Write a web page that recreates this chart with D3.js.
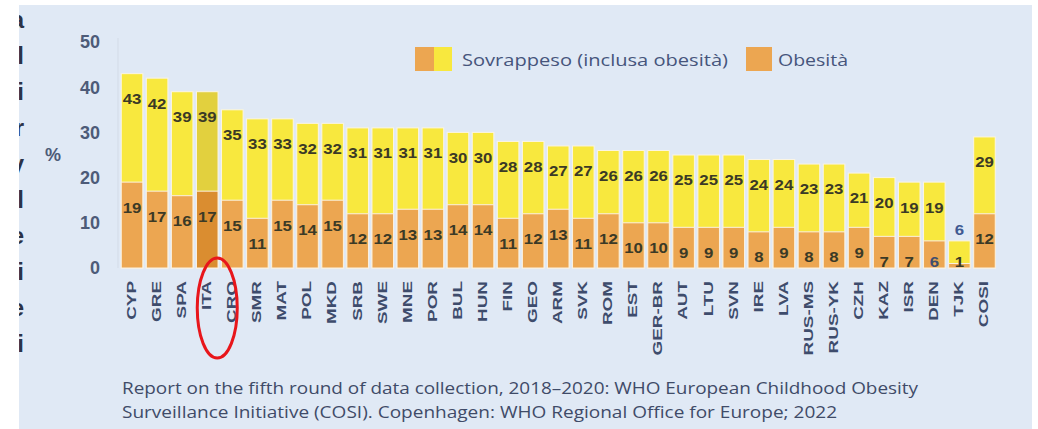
<!DOCTYPE html>
<html>
<head>
<meta charset="utf-8">
<script src="https://cdn.jsdelivr.net/npm/d3@7"></script>
<style>
  body { margin: 0; background: #fff; }
  svg { display: block; }
</style>
</head>
<body>
<div id="chart"></div>
<script>
// Countries (COSI round 5) and prevalence values, %
const countries = ["CYP","GRE","SPA","ITA","CRO","SMR","MAT","POL","MKD","SRB","SWE","MNE","POR","BUL","HUN",
  "FIN","GEO","ARM","SVK","ROM","EST","GER-BR","AUT","LTU","SVN","IRE","LVA","RUS-MS","RUS-YK","CZH","KAZ",
  "ISR","DEN","TJK","COSI"];
const overweight = [43,42,39,39,35,33,33,32,32,31,31,31,31,30,30,28,28,27,27,26,26,26,25,25,25,24,24,23,23,21,20,19,19,6,29];
const obesity = [19,17,16,17,15,11,15,14,15,12,12,13,13,14,14,11,12,13,11,12,10,10,9,9,9,8,9,8,8,9,7,7,6,1,12];
const yTicks = [0,10,20,30,40,50];
const highlight = "ITA";

const width = 1038, height = 429;
const svg = d3.select("#chart").append("svg")
  .attr("width", width)
  .attr("height", height);

// panel background
svg.append("rect")
  .attr("x", 19).attr("y", 5)
  .attr("width", 1013).attr("height", 430)
  .attr("fill", "#e0e9f5");

// cut-off letters from the neighbouring slide, left edge
const clip = svg.append("clipPath").attr("id", "leftclip");
clip.append("rect").attr("x", 19).attr("y", 0).attr("width", 20).attr("height", height);
svg.append("g").attr("clip-path", "url(#leftclip)")
  .selectAll("text")
  .data(["a","l","i","r","y","l","e","i","e","i"])
  .enter().append("text")
  .attr("x", 24).attr("y", (d, i) => 28 + i * 36)
  .attr("text-anchor", "end")
  .style("font-family", "Liberation Sans, Arial, sans-serif")
  .style("font-weight", "bold")
  .style("font-size", "24px")
  .style("fill", "#2c3347")
  .text(d => d);

const x = d3.scaleBand()
  .domain(countries)
  .range([119.5, 997])
  .paddingInner(0.14)
  .paddingOuter(0.07);

const y = d3.scaleLinear()
  .domain([0, 50])
  .range([268, 42]);

const data = countries.map((c, i) => ({ c: c, ow: overweight[i], ob: obesity[i] }));

// faint axis line
svg.append("line")
  .attr("x1", 118).attr("x2", 118)
  .attr("y1", y(50) - 4).attr("y2", y(0))
  .attr("stroke", "#d3dbe7").attr("stroke-width", 1);

// y tick labels
svg.append("g")
  .selectAll("text")
  .data(yTicks)
  .enter().append("text")
  .attr("x", 100)
  .attr("y", d => y(d))
  .attr("dy", "0.36em")
  .attr("text-anchor", "end")
  .style("font-family", "Liberation Sans, Arial, sans-serif")
  .style("font-weight", "bold")
  .style("font-size", "18px")
  .style("fill", "#4d5b78")
  .text(d => d);

svg.append("text")
  .attr("x", 53).attr("y", 155)
  .attr("dy", "0.36em")
  .attr("text-anchor", "middle")
  .style("font-family", "Liberation Sans, Arial, sans-serif")
  .style("font-weight", "bold")
  .style("font-size", "18px")
  .style("fill", "#4d5b78")
  .text("%");

// bars
const bars = svg.append("g");
bars.selectAll(".ow")
  .data(data)
  .enter().append("rect")
  .attr("class", "ow")
  .attr("x", d => x(d.c))
  .attr("y", d => y(d.ow))
  .attr("width", x.bandwidth())
  .attr("height", d => y(0) - y(d.ow))
  .attr("fill", d => d.c === highlight ? "#e2d03e" : "#f8e83e")
  .attr("stroke", "#fbf5e4")
  .attr("stroke-width", 1);

bars.selectAll(".ob")
  .data(data)
  .enter().append("rect")
  .attr("class", "ob")
  .attr("x", d => x(d.c))
  .attr("y", d => y(d.ob))
  .attr("width", x.bandwidth())
  .attr("height", d => y(0) - y(d.ob))
  .attr("fill", d => d.c === highlight ? "#da8d30" : "#eca651")
  .attr("stroke", "#fbf1e0")
  .attr("stroke-width", 1);

// value labels
function valueLabels(cls, key, posFn, colFn) {
  svg.append("g")
    .selectAll("text")
    .data(data)
    .enter().append("text")
    .attr("class", cls)
    .attr("transform", d => `translate(${x(d.c) + x.bandwidth() / 2},${posFn(d)}) scale(1.12,1)`)
    .attr("dy", "0.36em")
    .attr("text-anchor", "middle")
    .style("font-family", "Liberation Sans, Arial, sans-serif")
    .style("font-weight", "bold")
    .style("font-size", "15px")
    .style("fill", colFn)
    .text(d => d[key]);
}
valueLabels("owl", "ow",
  d => (d.ow - d.ob < 8 ? y(d.ow) - 11 : y(d.ow) + 25),
  d => (d.ow - d.ob < 8 ? "#3f5a92" : "#3b3a26"));
valueLabels("obl", "ob",
  d => Math.min(y(d.ob) + 25, y(0) - 6),
  d => (d.ob < 7 && d.ow - d.ob >= 8 ? "#3f4d6e" : "#3b3a26"));

// x labels (rotated)
svg.append("g")
  .selectAll("text")
  .data(countries)
  .enter().append("text")
  .attr("transform", d => `translate(${x(d) + x.bandwidth() / 2 - 1},281) rotate(-90) scale(1.4,1)`)
  .attr("dy", "0.36em")
  .attr("text-anchor", "end")
  .style("font-family", "Liberation Sans, Arial, sans-serif")
  .style("font-weight", "bold")
  .style("font-size", "13.5px")
  .style("fill", "#3e4c6c")
  .text(d => d);

// legend
const legend = svg.append("g");
legend.append("rect").attr("x", 415).attr("y", 47).attr("width", 19).attr("height", 24).attr("fill", "#eca651");
legend.append("rect").attr("x", 434).attr("y", 47).attr("width", 18).attr("height", 24).attr("fill", "#f8e83e");
legend.append("rect").attr("x", 746).attr("y", 47).attr("width", 26).attr("height", 24).attr("fill", "#eca651");
legend.append("text")
  .attr("x", 462).attr("y", 60).attr("dy", "0.36em")
  .attr("textLength", 266).attr("lengthAdjust", "spacingAndGlyphs")
  .style("font-family", "Open Sans, sans-serif")
  .style("font-size", "17px")
  .style("fill", "#46557c")
  .text("Sovrappeso (inclusa obesità)");
legend.append("text")
  .attr("x", 778).attr("y", 60).attr("dy", "0.36em")
  .attr("textLength", 70).attr("lengthAdjust", "spacingAndGlyphs")
  .style("font-family", "Open Sans, sans-serif")
  .style("font-size", "17px")
  .style("fill", "#46557c")
  .text("Obesità");

// highlight ellipse around ITA label
svg.append("ellipse")
  .attr("cx", x("ITA") + x.bandwidth() / 2 + 10)
  .attr("cy", 308)
  .attr("rx", 20).attr("ry", 50)
  .attr("fill", "none")
  .attr("stroke", "#e8161b")
  .attr("stroke-width", 3);

// source note
const foot = svg.append("g")
  .style("font-family", "Open Sans, sans-serif")
  .style("font-size", "16px")
  .style("fill", "#3f4b68");
foot.append("text")
  .attr("x", 122).attr("y", 388).attr("dy", "0.36em")
  .attr("textLength", 796).attr("lengthAdjust", "spacingAndGlyphs")
  .text("Report on the fifth round of data collection, 2018–2020: WHO European Childhood Obesity");
foot.append("text")
  .attr("x", 122).attr("y", 412).attr("dy", "0.36em")
  .attr("textLength", 715).attr("lengthAdjust", "spacingAndGlyphs")
  .text("Surveillance Initiative (COSI). Copenhagen: WHO Regional Office for Europe; 2022");
</script>
</body>
</html>
